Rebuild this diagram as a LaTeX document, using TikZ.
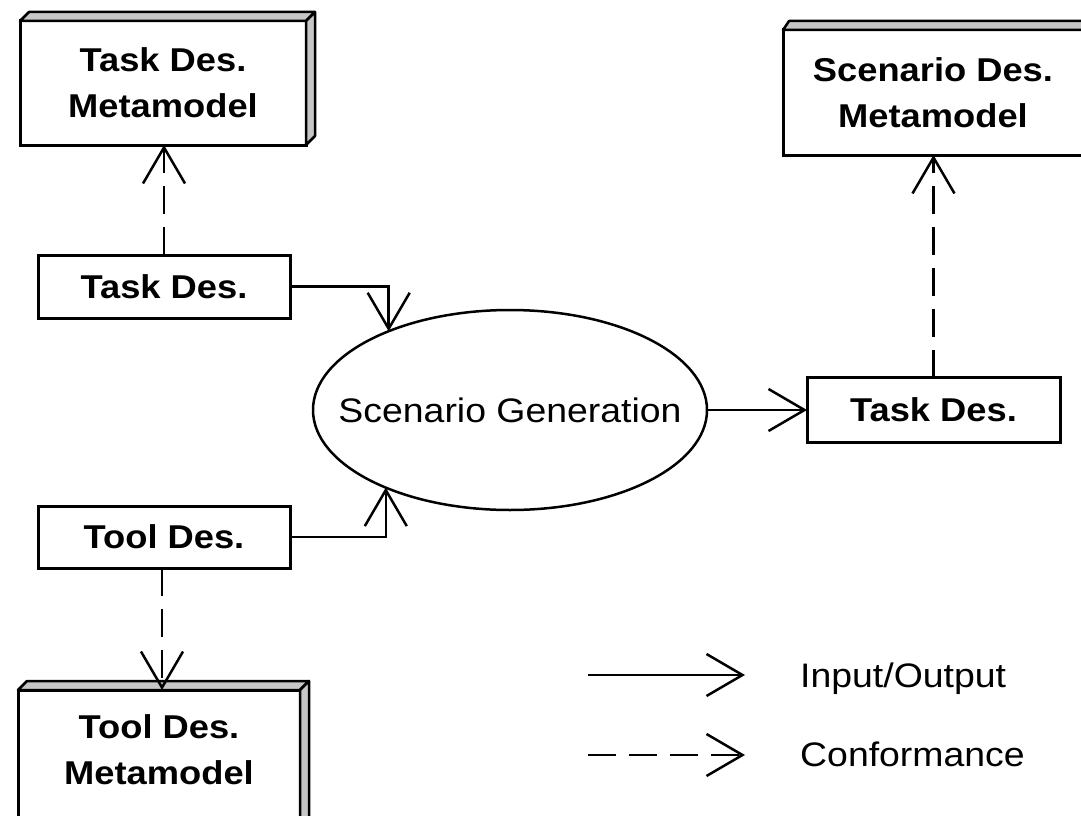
\documentclass[tikz,border=0pt]{standalone}
\usepackage{fontspec}
\setmainfont{Liberation Sans}[FakeStretch=1.1]
\usetikzlibrary{arrows.meta,shapes.geometric,calc}
\begin{document}
\begin{tikzpicture}[x=1pt,y=-1pt,
 box/.style={draw, line width=3pt, fill=white, inner sep=0pt, outer sep=0pt, align=center, font=\bfseries\fontsize{33}{46}\selectfont},
 mmbox/.style={box, draw=none},
 face/.style={draw, line width=2.5pt, fill=gray!45, line join=round},
 frame/.style={draw, line width=3pt},
 io/.style={line width=2.5pt, -{Straight Barb[length=36pt,width=42pt,line width=2.5pt]}},
 conf/.style={io, dash pattern=on 28pt off 13pt},
 lbl/.style={font=\fontsize{34}{40}\selectfont, inner sep=0pt, anchor=base west}]
\useasboundingbox (0,0) rectangle (1081,816);
\clip (0,0) rectangle (1081,816);

% Metamodel boxes
\node[box, minimum width=286, minimum height=124] (tdmm) at (163,83) {Task Des.\\Metamodel};
\path[face] (tdmm.north west) -- ++(9,-9) -- ($(tdmm.north east)+(9,-9)$) -- (tdmm.north east) -- cycle;
\path[face] (tdmm.north east) -- ++(9,-9) -- ($(tdmm.south east)+(9,-9)$) -- (tdmm.south east) -- cycle;

\node[box, minimum width=300, minimum height=125] (sdmm) at (933,92.5) {Scenario Des.\\Metamodel};
\path[face] (sdmm.north west) -- ++(6,-9) -- ($(sdmm.north east)+(6,-9)$) -- (sdmm.north east) -- cycle;

\node[mmbox, minimum width=282, minimum height=120] (tlmm) at (159,750) {Tool Des.\\Metamodel};
\path[frame] (tlmm.north west) rectangle ($(tlmm.south east)+(0,40)$);
\path[face] (tlmm.north west) -- ++(9,-9) -- ($(tlmm.north east)+(9,-9)$) -- (tlmm.north east) -- cycle;
\path[face] (tlmm.north east) -- ++(9,-9) -- ($(tlmm.south east)+(9,31)$) -- ($(tlmm.south east)+(0,40)$) -- cycle;

% Plain boxes
\node[box, minimum width=252, minimum height=63] (tdin) at (164,286.5) {Task Des.};
\node[box, minimum width=252, minimum height=62] (tlin) at (164,537) {Tool Des.};
\node[box, minimum width=253, minimum height=65] (tdout) at (933.5,410) {Task Des.};

% Process
\node[draw, ellipse, line width=2.5pt, inner sep=0pt, outer sep=0pt, minimum width=394, minimum height=200,
      font=\fontsize{34}{40}\selectfont] (sg) at (510,410) {\makebox[200pt]{Scenario Generation}};

% Input/Output connectors
\draw[io] (tdin.east) -| (sg.147.2);
\draw[io] (tlin.east) -| (sg.212.8);
\draw[io] (sg.east) -- (tdout.west);

% Conformance connectors
\draw[conf] (tdin.north) -- (tdin.north |- tdmm.south);
\draw[conf] (tdout.north) -- (tdout.north |- sdmm.south);
\draw[conf] ($(tlin.south)+(-2,0)$) -- ($(tlin.south |- tlmm.north)+(-2,0)$);

% Legend
\coordinate (l1a) at (588,675);
\coordinate (l1b) at (745,675);
\draw[io] (l1a) -- (l1b);
\node[lbl] (lio) at (800,687) {Input/Output};
\coordinate (l2a) at (588,755);
\coordinate (l2b) at (745,755);
\draw[conf] (l2a) -- (l2b);
\node[lbl] (lcf) at (800,766) {Conformance};
\end{tikzpicture}
\end{document}
